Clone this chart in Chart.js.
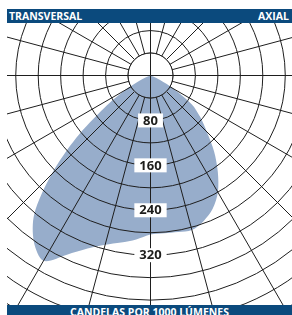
<!DOCTYPE html>
<html>
<head>
<meta charset="utf-8">
<script src="https://cdn.jsdelivr.net/npm/chart.js@4/dist/chart.umd.min.js"></script>
<style>
  html, body { margin: 0; padding: 0; background: #fff; }
  body { width: 292px; height: 315px; position: relative; overflow: hidden; font-family: 'Open Sans', sans-serif; }
  .bar { position: absolute; left: 7px; width: 285px; background: #0b4a7d; color: #fff; font-weight: 700; font-size: 10.5px; line-height: 14px; }
  #top { top: 9px; height: 14px; }
  #top .l { position: absolute; left: 2px; top: 0; }
  #top .r { position: absolute; right: 3px; top: 0; }
  #bottom { top: 305px; height: 12px; }
  #bottom span { position: absolute; left: 0; right: 0; top: -0.5px; text-align: center; }
  #plot { position: absolute; left: 7px; top: 23px; width: 285px; height: 282px; overflow: hidden; }
  #plot canvas { position: absolute; }
</style>
</head>
<body>
<div class="bar" id="top"><span class="l">TRANSVERSAL</span><span class="r">AXIAL</span></div>
<div id="plot"><canvas id="polar" width="585" height="585"></canvas></div>
<div class="bar" id="bottom"><span>CANDELAS POR 1000 LÚMENES</span></div>
<script>
// angles every 5 deg, starting straight down and going round the transversal (left) side
const angles = [0, 5, 10, 15, 20, 25, 30, 35, 40, 45, 50, 55, 60, 65, 70, 75, 80, 85,
  90, 95, 100, 105, 110, 115, 120, 125, 130, 135, 140, 145, 150, 155, 160, 165, 170, 175,
  180, 185, 190, 195, 200, 205, 210, 215, 220, 225, 230, 235, 240, 245, 250, 255, 260, 265,
  270, 275, 280, 285, 290, 295, 300, 305, 310, 315, 320, 325, 330, 335, 340, 345, 350, 355];

// cd / 1000 lm
const candelas = [
  283, 293, 302, 312, 328, 352, 381, 362, 322, 250, 172, 100, 52, 20, 5, 0, 0, 0,
  0, 0, 0, 0, 0, 0, 0, 0, 0, 0, 0, 0, 0, 0, 0, 0, 0, 0,
  0, 0, 0, 0, 0, 0, 0, 0, 0, 0, 0, 0, 0, 0, 0, 0, 0, 0,
  0, 0, 0, 0, 5, 18, 48, 90, 116, 142, 176, 209, 240, 262, 276, 285, 283, 282
];

const tickLabels = [80, 160, 240, 320];
const ringStep = 40;
const rMax = 520;
const innerRing = 40;

const lineColor = '#1e1e1e';
const fillColor = '#97adcb';
const CX = 150.7, CY = 75;   // centre of the diagram on the page

const polarExtras = {
  id: 'polarExtras',
  beforeDraw(chart) {
    chart.ctx.save();
    chart.ctx.translate(0.5, 0.5);
  },
  afterDraw(chart) {
    const ctx = chart.ctx;
    const s = chart.scales.r;
    const cx = s.xCenter, cy = s.yCenter;
    const r0 = s.getDistanceFromCenterForValue(innerRing);

    // blank centre circle, keep the light shape inside it
    ctx.save();
    ctx.beginPath();
    ctx.arc(cx, cy, r0, 0, Math.PI * 2);
    ctx.clip();
    ctx.fillStyle = '#fff';
    ctx.fillRect(cx - r0 - 2, cy - r0 - 2, 2 * r0 + 4, 2 * r0 + 4);
    const meta = chart.getDatasetMeta(0);
    ctx.beginPath();
    meta.dataset.path(ctx);
    ctx.closePath();
    ctx.fillStyle = fillColor;
    ctx.fill();
    ctx.restore();

    ctx.save();
    ctx.strokeStyle = lineColor;
    ctx.lineWidth = 1;
    ctx.beginPath();
    ctx.moveTo(cx - r0, cy); ctx.lineTo(cx + r0, cy);
    ctx.moveTo(cx, cy - r0); ctx.lineTo(cx, cy + r0);
    ctx.stroke();
    ctx.beginPath();
    ctx.arc(cx, cy, r0, 0, Math.PI * 2);
    ctx.stroke();
    ctx.restore();

    // value labels down the vertical axis
    ctx.save();
    ctx.font = '700 13px "Open Sans"';
    ctx.textAlign = 'center';
    ctx.textBaseline = 'middle';
    tickLabels.forEach(v => {
      const y = cy + s.getDistanceFromCenterForValue(v);
      const txt = String(v);
      const w = ctx.measureText(txt).width;
      ctx.fillStyle = '#fff';
      ctx.fillRect(cx - w / 2 - 5, y - 7, w + 10, 14);
      ctx.fillStyle = '#1d1d1b';
      ctx.fillText(txt, cx, y + 0.5);
    });
    ctx.restore();

    chart.ctx.restore();
  }
};

const canvas = document.getElementById('polar');
const chart = new Chart(canvas, {
  type: 'radar',
  data: {
    labels: angles,
    datasets: [{
      data: candelas,
      backgroundColor: fillColor,
      borderWidth: 0,
      pointRadius: 0,
      fill: true,
      tension: 0.3
    }]
  },
  options: {
    responsive: false,
    devicePixelRatio: 1,
    animation: false,
    layout: { padding: 0 },
    plugins: { legend: { display: false }, tooltip: { enabled: false } },
    scales: {
      r: {
        min: 0,
        max: rMax,
        startAngle: 180,
        grid: {
          circular: true,
          color: lineColor,
          lineWidth: 1,
          z: 1
        },
        angleLines: {
          display: true,
          color: lineColor,
          lineWidth: ctx => (ctx.index % 3 === 0 ? 1 : 0)
        },
        ticks: { display: false, stepSize: ringStep },
        pointLabels: { display: false }
      }
    }
  },
  plugins: [polarExtras]
});

const sc = chart.scales.r;
canvas.style.left = Math.round(CX - 7 - sc.xCenter - 0.5) + 'px';
canvas.style.top = Math.round(CY - 23 - sc.yCenter - 0.5) + 'px';
</script>
</body>
</html>
